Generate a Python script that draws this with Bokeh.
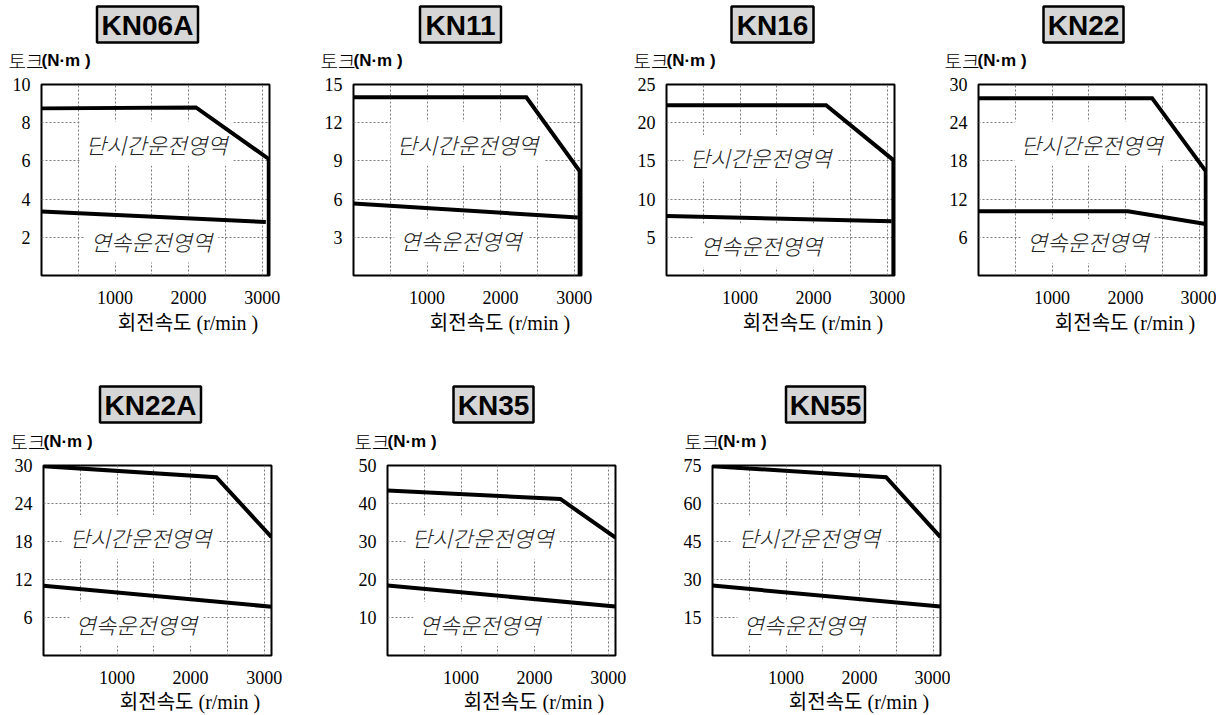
from bokeh.plotting import figure
from bokeh.models import FixedTicker, Range1d
from bokeh.layouts import row, column
from bokeh.embed import file_html
from bokeh.resources import INLINE
from bokeh.core.properties import value

# ---------------- data ----------------
models = ["KN06A", "KN11", "KN16", "KN22", "KN22A", "KN35", "KN55"]
x_max = 3100
x_ticks = [1000, 2000, 3000]
x_grid_ticks = [500, 1000, 1500, 2000, 2500, 3000]
y_max = [10, 15, 25, 30, 30, 50, 75]
y_ticks = [
    [2, 4, 6, 8, 10],
    [3, 6, 9, 12, 15],
    [5, 10, 15, 20, 25],
    [6, 12, 18, 24, 30],
    [6, 12, 18, 24, 30],
    [10, 20, 30, 40, 50],
    [15, 30, 45, 60, 75],
]

# short-time (peak) operating limit: speed (r/min) and torque (N·m)
peak_rpm = [
    [0, 2100, 3090, 3090],
    [0, 2350, 3075, 3075],
    [0, 2170, 3085, 3085],
    [0, 2360, 3090, 3090],
    [0, 2350, 3100],
    [0, 2350, 3100],
    [0, 2360, 3100],
]
peak_torque = [
    [8.75, 8.8, 6.1, 0],
    [14.0, 14.0, 8.2, 0],
    [22.3, 22.3, 15.1, 0],
    [27.85, 27.85, 16.4, 0],
    [29.9, 28.15, 18.7],
    [43.4, 41.2, 31.0],
    [74.7, 70.4, 46.7],
]

# continuous operating limit
cont_rpm = [
    [0, 3050],
    [0, 3050],
    [0, 3060],
    [0, 2030, 3090],
    [0, 3100],
    [0, 3100],
    [0, 3100],
]
cont_torque = [
    [3.35, 2.8],
    [5.65, 4.55],
    [7.8, 7.1],
    [10.1, 10.1, 8.1],
    [11.0, 7.7],
    [18.4, 12.9],
    [27.6, 19.3],
]

region_peak_text = "단시간운전영역"
region_cont_text = "연속운전영역"
y_title_kr = "토크"
y_title_unit = "(N·m )"
x_title = "회전속도  (r/min )"

# region label anchors (data coords): [rpm, torque]
peak_text_pos = [(1564, 6.9), (1550, 10.35), (1278, 15.5), (1539, 20.7),
                 (1319, 18.7), (1293, 31.1), (1315, 46.7)]
cont_text_pos = [(1496, 1.83), (1460, 2.75), (1287, 3.93), (1484, 5.4),
                 (1260, 5.0), (1256, 8.3), (1247, 12.5)]

# ---------------- layout (pixels) ----------------
FW = 228
ROWS = [[0, 1, 2, 3], [4, 5, 6]]
border_lr = [(41, 44), (40, 45), (40, 44), (40, 10), (43, 76), (40, 57), (40, 10)]
row_frame_h = [191, 190]
row_border_tb = [(11, 33), (11, 33)]
header_h = [73, 146, 26]           # header above row 1, between rows, footer
title_box_w = [101, 81, 82, 80, 101, 80, 79]
title_box_h = 36
title_dx = [106, 107, 106, 105, 107, 106, 113]   # box centre from frame left
title_dy = [60, 61]                               # box centre above frame top
ytitle_dx = [-33, -33, -33, -34, -33, -33, -28]
ytitle_dy = [24, 24]
xtitle_dx = 149
xtitle_dy = [47, 46]

SERIF = "'Liberation Serif', 'Noto Sans CJK KR'"
CJK = "'Noto Sans CJK KR Light', 'Noto Sans CJK KR'"

# frame left of every panel (page pixels)
frame_left = {}
row_width = []
for r in ROWS:
    x0 = 0
    for i in r:
        bl, br = border_lr[i]
        frame_left[i] = x0 + bl
        x0 += bl + FW + br
    row_width.append(x0)
W = max(row_width)

row_frame_top = [header_h[0] + row_border_tb[0][0]]
row2_top = header_h[0] + sum(row_border_tb[0]) + row_frame_h[0] + header_h[1]
row_frame_top.append(row2_top + row_border_tb[1][0])
header_top = [0,
              header_h[0] + sum(row_border_tb[0]) + row_frame_h[0],
              row2_top + sum(row_border_tb[1]) + row_frame_h[1]]


def make_panel(i, r):
    bl, br = border_lr[i]
    bt, bb = row_border_tb[r]
    fh = row_frame_h[r]
    ym = y_max[i]
    p = figure(
        frame_width=FW, frame_height=fh,
        min_border_left=bl, min_border_right=br,
        min_border_top=bt, min_border_bottom=bb,
        x_range=Range1d(0, x_max), y_range=Range1d(0, ym),
        output_backend="svg", toolbar_location=None, title=None,
        background_fill_color="white", border_fill_color="white",
    )
    p.outline_line_color = "black"
    p.outline_line_width = 2

    for ax, ticks in ((p.xaxis[0], x_ticks), (p.yaxis[0], y_ticks[i])):
        ax.ticker = FixedTicker(ticks=ticks)
        ax.axis_line_color = None
        ax.major_tick_line_color = None
        ax.minor_tick_line_color = None
        ax.major_label_text_font = SERIF
        ax.major_label_text_font_size = "18px"
        ax.major_label_text_color = "black"
    p.xaxis[0].major_label_standoff = 9
    p.yaxis[0].major_label_standoff = 5

    p.xgrid[0].ticker = FixedTicker(ticks=x_grid_ticks)
    for g in (p.xgrid[0], p.ygrid[0]):
        g.grid_line_color = "#7a7a7a"
        g.grid_line_dash = "2 2"
        g.grid_line_width = 1

    p.text(x=[peak_text_pos[i][0], cont_text_pos[i][0]],
           y=[peak_text_pos[i][1], cont_text_pos[i][1]],
           text=[region_peak_text, region_cont_text],
           text_font=value(CJK), text_font_style="italic",
           text_font_size="22px", text_color="#222222",
           text_align="center", text_baseline="middle",
           background_fill_color="white", padding=6)

    p.line(peak_rpm[i], peak_torque[i], line_color="black", line_width=4,
           line_join="miter")
    p.line(cont_rpm[i], cont_torque[i], line_color="black", line_width=4)
    return p


def make_band(k, boxes, ytitles, xtitles):
    """Full-width strip in page-pixel coordinates (y measured downward)."""
    h = header_h[k]
    top = header_top[k]
    p = figure(frame_width=W, frame_height=h, min_border=0,
               x_range=Range1d(0, W), y_range=Range1d(h, 0),
               x_axis_location=None, y_axis_location=None,
               output_backend="svg", toolbar_location=None, title=None,
               background_fill_color="white", border_fill_color="white")
    p.outline_line_color = None
    for g in p.grid:
        g.visible = False
    if boxes:
        bx = [frame_left[i] + title_dx[i] for i, _ in boxes]
        by = [fy - top for _, fy in boxes]
        bw = [title_box_w[i] for i, _ in boxes]
        p.rect(x=bx, y=by, width=bw, height=title_box_h,
               fill_color="#d6d6d6", line_color="black", line_width=2.5)
        p.text(x=bx, y=[v + 1 for v in by], text=[models[i] for i, _ in boxes],
               text_font=value("Liberation Sans"), text_font_style="bold",
               text_font_size="28px", text_color="black",
               text_align="center", text_baseline="middle")
    if ytitles:
        yx = [frame_left[i] + ytitle_dx[i] for i, _ in ytitles]
        yy = [fy - top for _, fy in ytitles]
        p.text(x=yx, y=yy, text=[y_title_kr] * len(yx),
               text_font=value(CJK), text_font_size="19px", text_color="black",
               text_align="left", text_baseline="middle")
        p.text(x=[v + 33 for v in yx], y=yy, text=[y_title_unit] * len(yx),
               text_font=value("Liberation Sans"), text_font_style="bold",
               text_font_size="17px", text_color="black",
               text_align="left", text_baseline="middle")
    if xtitles:
        xx = [frame_left[i] + xtitle_dx for i, _ in xtitles]
        xy = [fy - top for _, fy in xtitles]
        p.text(x=xx, y=xy, text=[x_title] * len(xx),
               text_font=value(SERIF), text_font_size="20px", text_color="black",
               text_align="center", text_baseline="middle")
    return p


r1_frame_bottom = row_frame_top[0] + row_frame_h[0]
r2_frame_bottom = row_frame_top[1] + row_frame_h[1]

band0 = make_band(
    0,
    [(i, row_frame_top[0] - title_dy[0]) for i in ROWS[0]],
    [(i, row_frame_top[0] - ytitle_dy[0]) for i in ROWS[0]],
    [])
band1 = make_band(
    1,
    [(i, row_frame_top[1] - title_dy[1]) for i in ROWS[1]],
    [(i, row_frame_top[1] - ytitle_dy[1]) for i in ROWS[1]],
    [(i, r1_frame_bottom + xtitle_dy[0]) for i in ROWS[0]])
band2 = make_band(
    2, [], [],
    [(i, min(r2_frame_bottom + xtitle_dy[1], header_top[2] + header_h[2] - 12))
     for i in ROWS[1]])

row1 = row(*[make_panel(i, 0) for i in ROWS[0]])
row2 = row(*[make_panel(i, 1) for i in ROWS[1]])
layout = column(band0, row1, band1, row2, band2)

open("out.html", "w").write(file_html(layout, INLINE))
